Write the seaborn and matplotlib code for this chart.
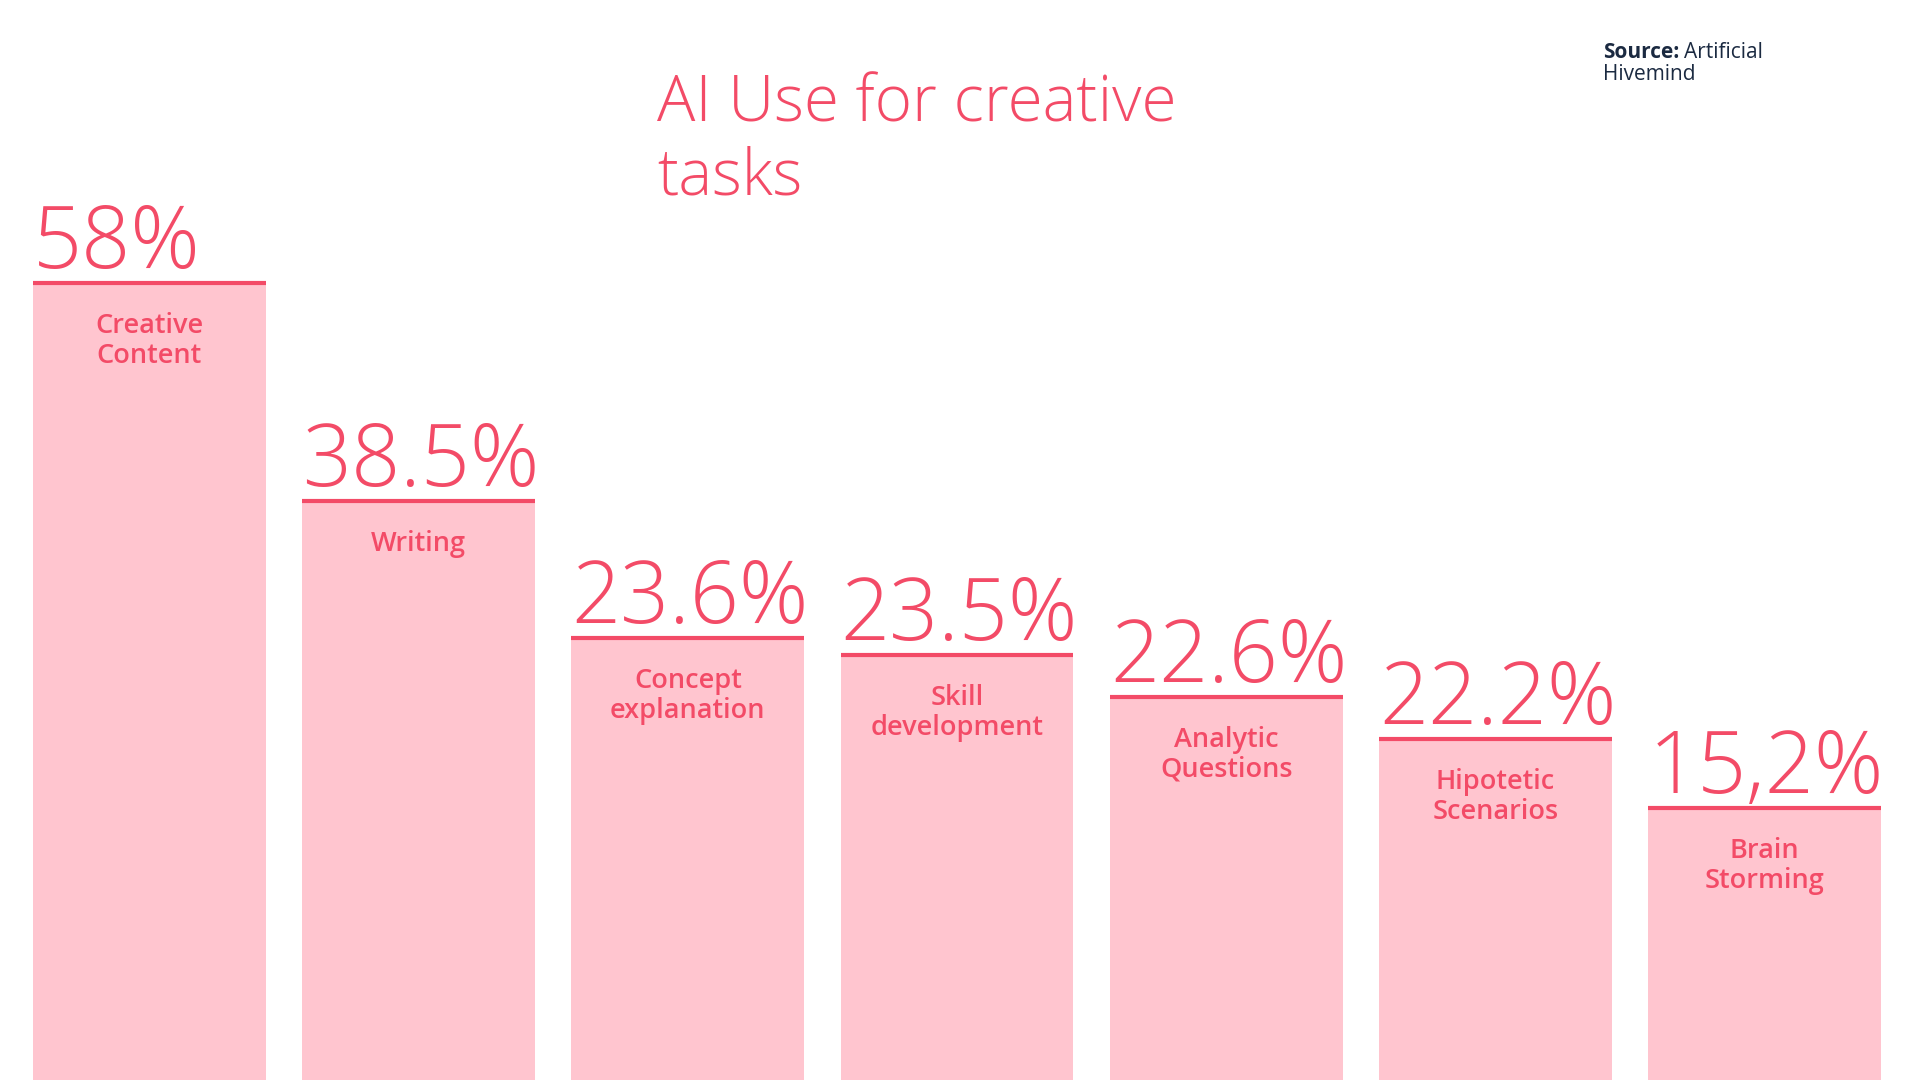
import matplotlib
matplotlib.use("Agg")
import matplotlib.pyplot as plt
import seaborn as sns
import pandas as pd

# data
categories = ["Creative\nContent", "Writing", "Concept\nexplanation", "Skill\ndevelopment",
              "Analytic\nQuestions", "Hipotetic\nScenarios", "Brain\nStorming"]
value_labels = ["58%", "38.5%", "23.6%", "23.5%", "22.6%", "22.2%", "15,2%"]
# drawn bar heights (the infographic is not to scale), tallest bar = 58
bar_heights = [58.0, 42.1, 32.2, 30.9, 27.9, 24.8, 19.8]

title = "AI Use for creative\ntasks"
source_bold = "Source:"
source_rest = "Artificial"
source_line2 = "Hivemind"

RED = "#F34B67"
PINK = "#FFC5CF"
NAVY = "#1B2A41"

sns.set_theme(style="white")
plt.rcParams["font.family"] = ["Open Sans", "DejaVu Sans"]

df = pd.DataFrame({"task": categories, "height": bar_heights})

W, H = 1920, 1080
fig = plt.figure(figsize=(19.2, 10.8), dpi=100)
fig.patch.set_facecolor("white")
ax = fig.add_axes([0, 0, 1, 1])
sns.barplot(data=df, x="task", y="height", color=PINK, saturation=1,
            width=0.865, linewidth=0, ax=ax)

ax.set_xlim(-0.555, 6.577)
ax.set_ylim(0, 58 * 1080 / 797)
ax.axis("off")

for patch, val, cat in zip(ax.patches, value_labels, categories):
    x0 = patch.get_x()
    w = patch.get_width()
    h = patch.get_height()
    # red cap line on top of each bar
    ax.plot([x0, x0 + w], [h, h], color=RED, lw=3.0, solid_capstyle="butt")
    # big percentage above the bar
    ax.annotate(val, (x0, h), xytext=(0, 15), textcoords="offset pixels",
                ha="left", va="baseline", fontsize=62, fontweight="light", color=RED)
    # category name inside the bar
    ax.annotate(cat, (x0 + w / 2, h), xytext=(0, -29), textcoords="offset pixels",
                ha="center", va="top", fontsize=19.5, fontweight="semibold",
                color=RED, linespacing=1.1, multialignment="center")

# title
fig.text(657 / W, 1 - 72 / H, title, ha="left", va="top", fontsize=46,
         fontweight="light", color=RED, linespacing=1.18)

# source note, bold lead-in followed by regular text
src = fig.text(1603 / W, 1 - 42 / H, source_bold, ha="left", va="top",
               fontsize=15, fontweight="bold", color=NAVY)
renderer = fig.canvas.get_renderer()
bb = src.get_window_extent(renderer=renderer)
fig.text((bb.x1 + 5) / W, 1 - 42 / H, source_rest, ha="left", va="top",
         fontsize=15, color=NAVY)
fig.text(1603 / W, 1 - 64 / H, source_line2, ha="left", va="top",
         fontsize=15, color=NAVY)

fig.savefig("out.png", dpi=100, facecolor="white")
